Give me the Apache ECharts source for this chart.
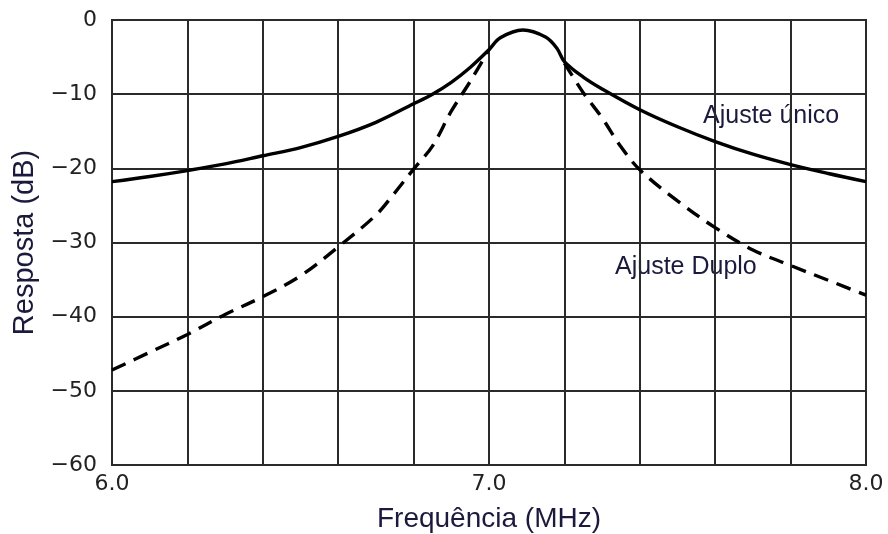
<!DOCTYPE html>
<html>
<head>
<meta charset="utf-8">
<script src="https://cdn.jsdelivr.net/npm/echarts@6/dist/echarts.min.js"></script>
<style>
  html, body { margin: 0; padding: 0; background: #fff; }
  #chart { width: 888px; height: 534px; }
</style>
</head>
<body>
<div id="chart"></div>
<script>
// frequência (MHz) e resposta (dB)
const singleFreq = [6.0, 6.1, 6.2, 6.3, 6.4, 6.5, 6.6, 6.7, 6.8, 6.85, 6.9, 6.95, 7.0, 7.03, 7.09, 7.15, 7.18, 7.2, 7.25, 7.3, 7.4, 7.5, 7.6, 7.7, 7.8, 7.9, 8.0]
const singleResp = [-21.8, -21.1, -20.3, -19.4, -18.3, -17.2, -15.7, -13.8, -11.3, -10.0, -8.4, -6.4, -4.0, -2.4, -1.35, -2.3, -3.8, -5.6, -7.7, -9.3, -12.1, -14.4, -16.4, -18.1, -19.5, -20.7, -21.8]

// ajuste duplo: null = trecho que coincide com a curva cheia
const doubleFreq = [6.0, 6.1, 6.2, 6.3, 6.4, 6.5, 6.6, 6.7, 6.75, 6.8, 6.85, 6.9, 6.95, 7.0, 7.1, 7.2, 7.25, 7.3, 7.35, 7.4, 7.5, 7.6, 7.7, 7.8, 7.9, 8.0]
const doubleResp = [-47.2, -44.8, -42.4, -39.7, -37.3, -34.5, -30.6, -26.3, -23.3, -20.1, -17.0, -12.3, -8.3, -4.0, null, -5.8, -9.8, -13.2, -17.1, -20.2, -24.4, -28.0, -31.0, -33.1, -35.1, -37.1]

const xTickLabels = ["6.0", "7.0", "8.0"]
const yTicks = [0, -10, -20, -30, -40, -50, -60]

const textColor = "#1c1a3c"
const gridColor = "#2a2a2a"

const chart = echarts.init(document.getElementById("chart"))

chart.setOption({
  animation: false,
  grid: {
    left: 112,
    right: 22,
    top: 20,
    bottom: 69,
    outerBoundsMode: "none",
    show: true,
    borderColor: gridColor,
    borderWidth: 2
  },
  xAxis: {
    type: "value",
    min: 6,
    max: 8,
    interval: 0.2,
    name: "Frequência (MHz)",
    nameLocation: "middle",
    nameGap: 40,
    nameTextStyle: { fontSize: 28, color: textColor, fontFamily: "Liberation Sans" },
    axisLine: { lineStyle: { color: gridColor, width: 2 } },
    axisTick: { show: false },
    axisLabel: {
      margin: 8,
      fontSize: 22,
      color: "#222",
      fontFamily: "DejaVu Sans",
      formatter: v => {
        const s = v.toFixed(1)
        return xTickLabels.includes(s) ? s : ""
      }
    },
    splitLine: { show: true, lineStyle: { color: gridColor, width: 2 } }
  },
  yAxis: {
    type: "value",
    min: -60,
    max: 0,
    interval: 10,
    name: "Resposta (dB)",
    nameLocation: "middle",
    nameGap: 70,
    nameTextStyle: { fontSize: 29, color: textColor, fontFamily: "Liberation Sans" },
    axisLine: { lineStyle: { color: gridColor, width: 2 } },
    axisTick: { show: false },
    axisLabel: {
      margin: 15,
      fontSize: 22,
      color: "#222",
      fontFamily: "DejaVu Sans",
      formatter: v => (yTicks.includes(v) ? String(v).replace("-", "\u2212") : "")
    },
    splitLine: { show: true, lineStyle: { color: gridColor, width: 2 } }
  },
  series: [
    {
      name: "Ajuste único",
      type: "line",
      smooth: 0.35,
      symbol: "none",
      lineStyle: { color: "#000", width: 3.4 },
      data: singleFreq.map((f, i) => [f, singleResp[i]])
    },
    {
      name: "Ajuste Duplo",
      type: "line",
      smooth: 0.35,
      symbol: "none",
      connectNulls: false,
      lineStyle: { color: "#000", width: 3.4, type: [15, 9] },
      data: doubleFreq.map((f, i) => [f, doubleResp[i] === null ? "-" : doubleResp[i]])
    }
  ],
  graphic: [
    {
      type: "text",
      left: 703,
      top: 104,
      style: { text: "Ajuste único", fontSize: 25, fill: textColor, fontFamily: "Liberation Sans" }
    },
    {
      type: "text",
      left: 615,
      top: 255,
      style: { text: "Ajuste Duplo", fontSize: 25, fill: textColor, fontFamily: "Liberation Sans" }
    }
  ]
})
</script>
</body>
</html>
